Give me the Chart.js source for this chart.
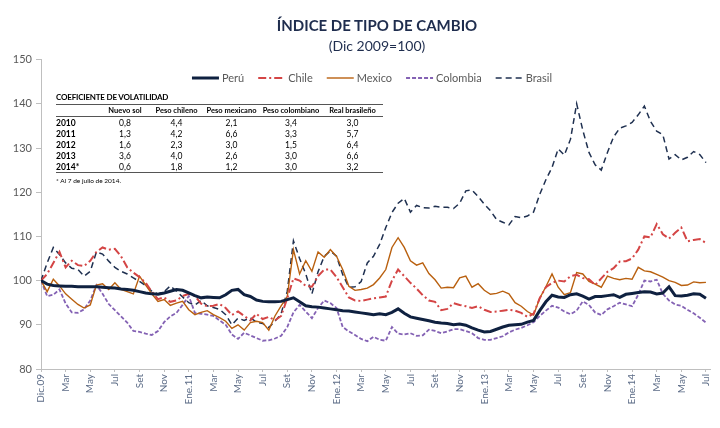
<!DOCTYPE html>
<html>
<head>
<meta charset="utf-8">
<script src="https://cdn.jsdelivr.net/npm/chart.js@4.4.1/dist/chart.umd.min.js"></script>
<style>
  body{margin:0;background:#fff;font-family:Lato,"Open Sans",sans-serif;}
  #wrap{position:relative;width:720px;height:428px;}
  .head{position:absolute;left:42px;width:670px;text-align:center;color:#1f2d4e;}
  #t1{top:15px;font-size:15px;font-weight:bold;line-height:20px;}
  #t2{top:36px;font-size:14px;line-height:19px;}
  #vol{position:absolute;left:56px;top:92px;width:327px;color:#000;}
  #vol .ttl{font-weight:bold;font-size:8px;height:12px;line-height:11px;letter-spacing:-0.2px;}
  #vol table{border-collapse:collapse;width:327px;table-layout:fixed;}
  #vol th{font-size:7.5px;font-weight:bold;height:11px;padding:0;text-align:center;border-top:1px solid #555;border-bottom:1px solid #555;}
  #vol td{font-size:8.5px;height:11px;padding:0;text-align:center;}
  #vol td.y{text-align:left;font-weight:bold;}
  #vol tr:last-child td{border-bottom:1px solid #555;}
  #vol .nota{font-size:6.5px;margin-top:4px;}
</style>
</head>
<body>
<div id="wrap">
  <canvas id="tcChart" width="720" height="428"></canvas>
  <div class="head" id="t1">ÍNDICE DE TIPO DE CAMBIO</div>
  <div class="head" id="t2">(Dic 2009=100)</div>
  <div id="vol">
    <div class="ttl">COEFICIENTE DE VOLATILIDAD</div>
    <table id="volTable"></table>
    <div class="nota">* Al 7 de julio de 2014.</div>
  </div>
</div>
<script>
// ===== DATOS (quincenales, Dic 2009 = 100) =====
const tickLabels = ["Dic.09","Mar","May","Jul","Set","Nov","Ene.11","Mar","May","Jul","Set","Nov",
  "Ene.12","Mar","May","Jul","Set","Nov","Ene.13","Mar","May","Jul","Set","Nov","Ene.14","Mar","May","Jul"];

const peru = [100,99.2,98.9,98.8,98.7,98.7,98.6,98.6,98.6,98.6,98.5,98.4,98.3,98.1,98.0,97.8,97.5,97.2,97.0,96.9,
  97.2,97.6,98.0,97.8,97.2,96.6,96.1,96.3,96.2,96.1,96.8,97.8,98.0,96.8,96.4,95.6,95.3,95.2,95.2,95.3,
  95.7,96.1,95.2,94.3,94.1,94.0,93.8,93.6,93.4,93.2,93.1,92.9,92.7,92.5,92.3,92.5,92.3,92.8,93.6,92.6,
  91.8,91.5,91.2,90.9,90.6,90.4,90.3,90.0,90.2,89.9,89.3,88.8,88.4,88.5,89.0,89.5,89.9,90.0,90.1,90.6,
  91.0,93.2,95.2,96.7,96.3,96.2,96.8,97.0,96.5,95.8,96.4,96.4,96.6,96.8,96.2,96.9,97.1,97.3,97.5,97.4,
  97.0,97.2,98.6,96.6,96.5,96.7,97.0,96.9,96.0];

const chile = [100,101.5,104,106.5,103,104.5,103.5,103.3,104.5,106.5,107.5,107,107.2,105.5,103,101.8,100.8,99.5,97.5,95.8,
  96.2,95.2,95.5,96.5,97.0,96.5,94.8,94.2,94.3,94.7,93.8,92.2,93.0,92.0,91.0,92.5,91.3,91.8,91.0,92.0,
  96.0,100.5,100.0,98.8,98.6,101.0,102.5,102.5,100.8,98.5,96.2,95.5,95.4,95.7,96.0,96.2,96.4,100.0,102.5,101.0,
  99.5,98.2,96.7,95.5,95.2,93.3,93.6,94.9,94.5,94.2,93.8,94.2,93.4,92.9,93.0,93.2,93.4,93.2,92.7,91.8,
  92.5,96.0,98.5,99.5,100.0,99.8,101.0,101.3,100.6,100.3,99.0,100.5,102.0,102.8,104.3,104.4,105.0,107.0,110.0,109.8,
  112.8,110.5,109.5,110.8,112.0,108.9,109.2,109.4,108.5];

const mexico = [100,97.5,100.3,98.8,97.0,95.8,94.6,93.8,94.5,99.0,99.3,98.0,99.5,98.0,97.5,97.0,101.0,99.0,97.0,95.3,
  95.7,94.4,94.9,95.3,93.4,92.3,92.8,93.2,92.3,91.6,90.8,89.2,90.0,88.8,90.5,90.8,90.5,88.8,92.0,94.3,
  96.4,107.0,101.5,104.5,102.1,106.5,105.3,107.0,105.5,102.5,98.7,97.8,98.0,98.3,99.1,100.6,102.5,107.5,109.7,107.5,
  104.5,103.5,104.0,101.6,100.2,98.3,98.5,98.4,100.6,101.0,98.5,99.3,97.8,96.9,97.1,97.6,97.0,95.0,94.2,93.0,
  92.2,96.0,98.6,101.5,98.5,96.8,97.3,101.8,101.5,99.8,99.2,98.5,101.0,100.5,100.2,100.5,100.3,103.0,102.2,102.0,
  101.4,100.8,100.0,99.6,98.9,99.0,99.7,99.5,99.6];

const colombia = [100,96.5,96.8,98.0,94.8,92.8,92.7,93.5,95.5,99.0,97.0,94.7,93.3,91.9,90.5,88.6,88.4,88.0,87.7,88.6,
  90.6,91.9,92.7,94.5,96.5,92.7,92.5,92.3,92.0,91.0,90.0,87.8,86.8,88.2,87.6,87.0,86.4,86.5,86.9,87.5,
  89.5,92.8,94.5,93.0,91.5,93.8,95.5,94.9,93.8,89.5,88.5,87.7,86.8,86.3,87.3,86.6,86.4,89.5,88.0,87.8,
  88.1,87.5,87.6,88.9,88.6,88.1,88.5,89.0,89.0,88.6,88.1,87.0,86.6,86.6,87.0,87.4,88.3,88.9,89.3,89.9,
  90.6,92.0,93.2,94.3,93.9,93.0,92.4,93.2,95.3,94.5,92.8,92.2,93.5,94.2,95.0,94.6,94.2,96.8,100.0,99.8,
  100.2,97.0,95.5,94.6,94.3,93.4,92.6,91.6,90.5];

const brasil = [100,104,107.5,105.9,104,102.8,102.5,101.0,102.1,106.5,106.0,104.4,103.0,102.1,101.5,100.6,99.8,98.9,97.6,97.0,
  97.5,98.8,97.6,96.3,95.0,94.5,95.5,94.3,93.9,93.5,92.3,90.0,91.5,91.0,91.6,90.6,90.3,89.4,90.8,92.5,
  97.6,109.0,105.0,101.5,97.0,102.0,105.5,106.7,105.5,101.4,98.5,98.6,99.8,104.0,105.5,108.2,112.0,115.4,117.5,118.6,
  115.5,117.0,116.5,116.4,116.8,116.6,116.6,116.3,117.5,120.3,120.5,119.0,117.3,115.8,113.8,113.2,112.6,114.5,114.2,114.6,
  115.5,119.5,122.8,125.6,129.8,128.4,132.0,140.0,134.0,129.0,126.2,125.0,129.0,132.5,134.5,135.0,135.8,137.5,139.5,136.0,
  133.8,133.0,127.5,128.5,127.3,127.9,129.2,128.5,126.7];

// coeficiente de volatilidad
const volHeaders = ["", "Nuevo sol", "Peso chileno", "Peso mexicano", "Peso colombiano", "Real brasileño"];
const volYears = ["2010", "2011", "2012", "2013", "2014*"];
const volSol = ["0,8", "1,3", "1,6", "3,6", "0,6"];
const volClp = ["4,4", "4,2", "2,3", "4,0", "1,8"];
const volMxn = ["2,1", "6,6", "3,0", "2,6", "1,2"];
const volCop = ["3,4", "3,3", "1,5", "3,0", "3,0"];
const volBrl = ["3,0", "5,7", "6,4", "6,6", "3,2"];

// ===== TABLA =====
const tbl = document.getElementById("volTable");
const colW = [44, 50, 53, 57, 62, 61];
let html = "<colgroup>" + colW.map(w => `<col style="width:${w}px">`).join("") + "</colgroup>";
html += "<tr>" + volHeaders.map(h => `<th>${h}</th>`).join("") + "</tr>";
volYears.forEach((y, i) => {
  html += `<tr><td class="y">${y}</td><td>${volSol[i]}</td><td>${volClp[i]}</td><td>${volMxn[i]}</td><td>${volCop[i]}</td><td>${volBrl[i]}</td></tr>`;
});
tbl.innerHTML = html;

// ===== GRAFICO =====
const toPoints = arr => arr.map((v, i) => ({x: i / 2, y: v}));

const lineLegend = {
  id: "lineLegend",
  afterDraw(chart) {
    const ctx = chart.ctx;
    ctx.save();
    ctx.font = "11px Lato";
    const items = chart.data.datasets.map(d => ({d, w: 27 + 3 + ctx.measureText(d.label).width}));
    const total = items.reduce((a, it) => a + it.w, 0) + 14 * (items.length - 1);
    let x = 372 - total / 2;
    const y = 78;
    items.forEach(it => {
      ctx.strokeStyle = it.d.borderColor;
      ctx.lineWidth = it.d.borderWidth;
      ctx.setLineDash(it.d.borderDash || []);
      ctx.beginPath();
      ctx.moveTo(x, y);
      ctx.lineTo(x + 27, y);
      ctx.stroke();
      ctx.setLineDash([]);
      ctx.fillStyle = "#595959";
      ctx.textBaseline = "middle";
      ctx.fillText(it.d.label, x + 30, y);
      x += it.w + 14;
    });
    ctx.restore();
  }
};

new Chart(document.getElementById("tcChart"), {
  type: "line",
  data: {
    datasets: [
      {label: "Perú", data: toPoints(peru), borderColor: "#0f2140", borderWidth: 3},
      {label: "Chile", data: toPoints(chile), borderColor: "#d44545", borderWidth: 2, borderDash: [8, 3, 2, 3]},
      {label: "Mexico", data: toPoints(mexico), borderColor: "#b9600f", borderWidth: 1.4},
      {label: "Colombia", data: toPoints(colombia), borderColor: "#8462b4", borderWidth: 1.8, borderDash: [4, 2]},
      {label: "Brasil", data: toPoints(brasil), borderColor: "#1f3050", borderWidth: 1.5, borderDash: [6, 4]}
    ]
  },
  options: {
    responsive: false,
    animation: false,
    elements: {point: {radius: 0}, line: {tension: 0, fill: false}},
    layout: {padding: {left: 0, right: 8, top: 59.6, bottom: 0}},
    plugins: {
      legend: {display: false},
      tooltip: {enabled: false},
      title: {display: false}
    },
    scales: {
      x: {
        type: "linear",
        min: 0,
        max: 54.33,
        afterFit: s => { s.height = 59; },
        border: {color: "#bfbfbf"},
        grid: {drawOnChartArea: false, drawTicks: true, tickLength: 3, color: "#bfbfbf"},
        ticks: {
          stepSize: 2,
          autoSkip: false,
          includeBounds: false,
          minRotation: 90,
          maxRotation: 90,
          padding: 2,
          color: "#5b6b86",
          font: {family: "Lato", size: 10},
          callback: v => (Number.isInteger(v / 2) ? tickLabels[v / 2] : "")
        }
      },
      y: {
        min: 80,
        max: 150,
        afterFit: s => { s.width = 41; },
        border: {color: "#bfbfbf"},
        grid: {drawOnChartArea: false, drawTicks: true, tickLength: 5, color: "#bfbfbf"},
        ticks: {stepSize: 10, padding: 4, color: "#595959", font: {family: "Lato", size: 11}}
      }
    }
  },
  plugins: [lineLegend]
});
</script>
</body>
</html>
